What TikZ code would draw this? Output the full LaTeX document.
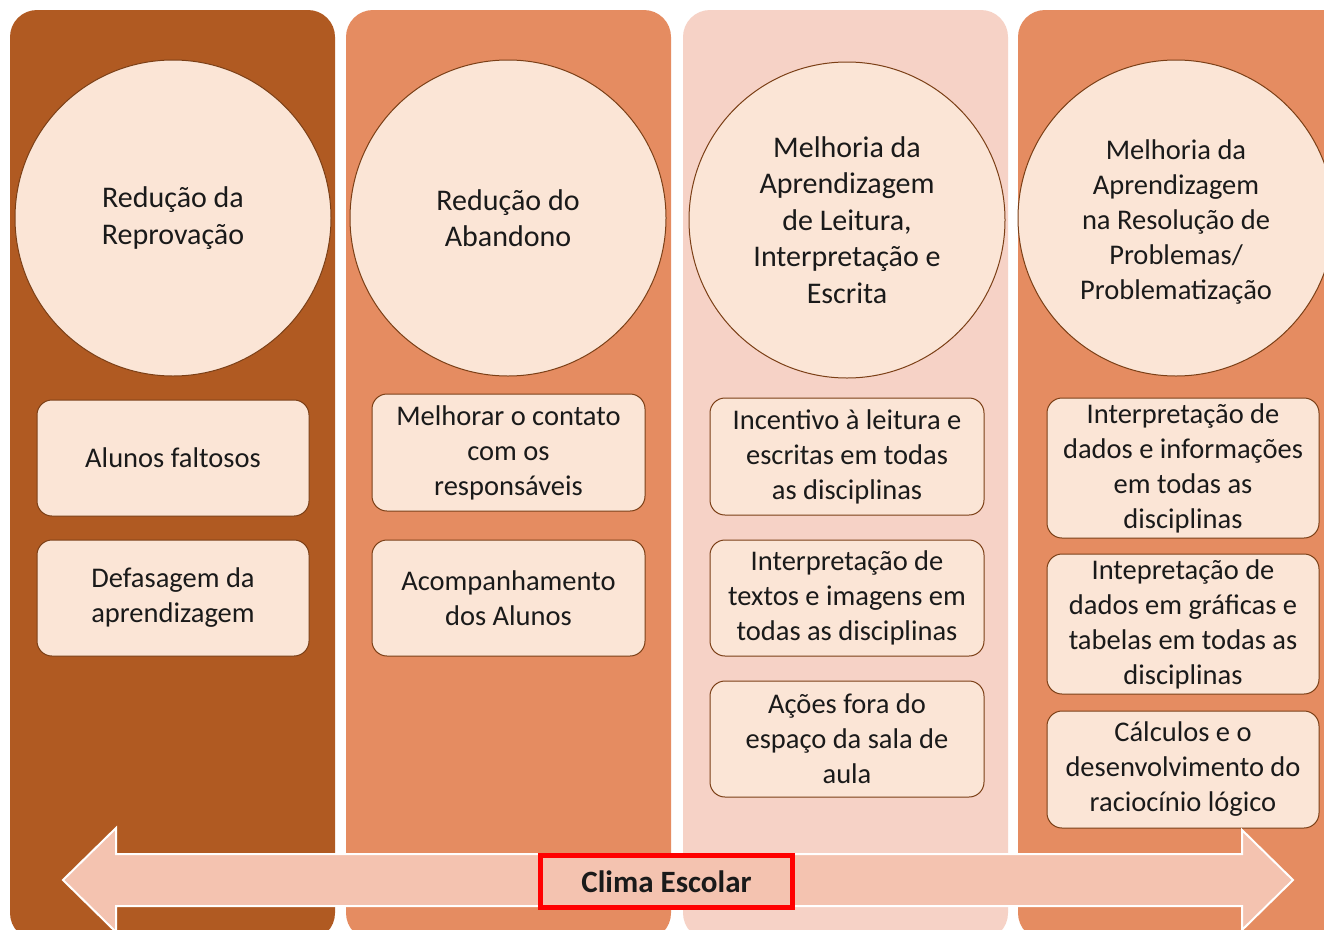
\documentclass[tikz,border=0pt]{standalone}
\usepackage{fontspec}
\setmainfont{Carlito}
\definecolor{colA}{HTML}{B05A22}
\definecolor{colB}{HTML}{E58C61}
\definecolor{colC}{HTML}{F6D2C6}
\definecolor{cfill}{HTML}{FBE5D6}
\definecolor{cline}{HTML}{7B3F16}
\definecolor{afill}{HTML}{F4C3B0}
\definecolor{txt}{HTML}{1A1A1A}
\begin{document}
\begin{tikzpicture}[x=1pt,y=-1pt,
  column/.style={rounded corners=27pt},
  bigcirc/.style={circle,draw=cline,line width=1pt,fill=cfill,minimum size=316pt,inner sep=0pt,align=center,text=txt,font=\fontsize{30}{36.6}\selectfont},
  itembox/.style={rectangle,rounded corners=15pt,draw=cline,line width=1pt,fill=cfill,align=center,text=txt,inner sep=0pt,font=\fontsize{28.5}{35}\selectfont}]
\useasboundingbox (0,0) rectangle (1324,929);
\clip (0,0) rectangle (1324,929);
\fill[white] (0,0) rectangle (1324,929);
% columns
\fill[colA,column] (10,10) rectangle (335,940);
\fill[colB,column] (346,10) rectangle (671,940);
\fill[colC,column] (683,10) rectangle (1008,940);
\fill[colB,column] (1018,10) rectangle (1350,940);
% circles
\node[bigcirc] (c1) at (173,218) {Redução da\\Reprovação};
\node[bigcirc] (c2) at (508,218) {Redução do\\Abandono};
\node[bigcirc] (c3) at (847,220) {Melhoria da\\Aprendizagem\\de Leitura,\\Interpretação e\\Escrita};
\node[bigcirc] (c4) at (1176,218) {};
\node[align=center,text=txt,font=\fontsize{28.5}{35}\selectfont] (c4t) at (1176,222) {Melhoria da\\Aprendizagem\\na Resolução de\\Problemas/\\Problematização};
% column 1 boxes
\node[itembox,minimum width=272pt,minimum height=116pt] (b11) at (173,458) {Alunos faltosos};
\node[itembox,minimum width=272pt,minimum height=116pt] (b12) at (173,598) {Defasagem da\\aprendizagem};
% column 2 boxes
\node[itembox,minimum width=273pt,minimum height=117pt] (b21) at (508.5,452.5) {Melhorar o contato\\com os\\responsáveis};
\node[itembox,minimum width=273pt,minimum height=116pt] (b22) at (508.5,598) {Acompanhamento\\dos Alunos};
% column 3 boxes
\node[itembox,minimum width=274pt,minimum height=117pt] (b31) at (847,456.5) {Incentivo à leitura e\\escritas em todas\\as disciplinas};
\node[itembox,minimum width=274pt,minimum height=116pt] (b32) at (847,598) {Interpretação de\\textos e imagens em\\todas as disciplinas};
\node[itembox,minimum width=274pt,minimum height=116pt] (b33) at (847,739) {Ações fora do\\espaço da sala de\\aula};
% column 4 boxes
\node[itembox,minimum width=272pt,minimum height=140pt] (b41) at (1183,468) {Interpretação de\\dados e informações\\em todas as\\disciplinas};
\node[itembox,minimum width=272pt,minimum height=140pt] (b42) at (1183,624) {Intepretação de\\dados em gráficas e\\tabelas em todas as\\disciplinas};
\node[itembox,minimum width=272pt,minimum height=117pt] (b43) at (1183,769.5) {Cálculos e o\\desenvolvimento do\\raciocínio lógico};
% double arrow
\filldraw[fill=afill,draw=white,line width=2pt,line join=miter]
  (63,880) -- (116,828) -- (116,854) -- (1242,854) -- (1242,830) -- (1293,880)
  -- (1242,930) -- (1242,906) -- (116,906) -- (116,932) -- cycle;
% label
\node[draw=red,line width=5pt,fill=afill,minimum width=252pt,minimum height=52pt,inner sep=0pt,text=txt,font=\bfseries\fontsize{31}{36}\selectfont] (clima) at (666.5,881.5) {Clima Escolar};
\end{tikzpicture}
\end{document}
